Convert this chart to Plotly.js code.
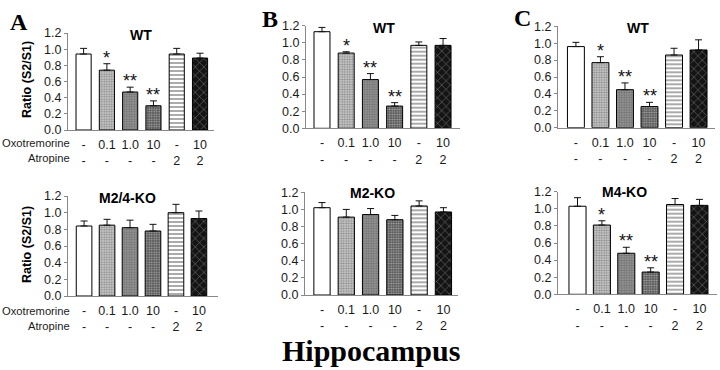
<!DOCTYPE html>
<html>
<head>
<meta charset="utf-8">
<script src="https://cdn.plot.ly/plotly-3.0.1.min.js"></script>
<style>html,body{margin:0;padding:0;background:#fff;}#chart{width:720px;height:370px;}</style>
</head>
<body>
<div id="chart"></div>
<script>
// ---- data ----
const positions = [0, 1, 2, 3, 4, 5];
const oxotremorine = ['-', '0.1', '1.0', '10', '-', '10'];
const atropine = ['-', '-', '-', '-', '2', '2'];

const wtA = [0.94, 0.74, 0.47, 0.30, 0.94, 0.89];
const errWtA = [0.07, 0.08, 0.06, 0.06, 0.07, 0.06];
const sigWtA = ['', '*', '**', '**', '', ''];

const koA = [0.84, 0.85, 0.82, 0.78, 1.00, 0.93];
const errKoA = [0.06, 0.07, 0.09, 0.08, 0.10, 0.09];
const sigKoA = ['', '', '', '', '', ''];

const wtB = [1.13, 0.88, 0.57, 0.26, 0.97, 0.97];
const errWtB = [0.05, 0.015, 0.07, 0.04, 0.04, 0.08];
const sigWtB = ['', '*', '**', '**', '', ''];

const koB = [1.02, 0.91, 0.94, 0.88, 1.04, 0.97];
const errKoB = [0.06, 0.09, 0.07, 0.05, 0.06, 0.05];
const sigKoB = ['', '', '', '', '', ''];

const wtC = [0.96, 0.77, 0.45, 0.25, 0.86, 0.92];
const errWtC = [0.05, 0.07, 0.08, 0.05, 0.08, 0.12];
const sigWtC = ['', '*', '**', '**', '', ''];

const koC = [1.03, 0.81, 0.48, 0.26, 1.05, 1.04];
const errKoC = [0.10, 0.05, 0.07, 0.05, 0.07, 0.07];
const sigKoC = ['', '*', '**', '**', '', ''];

const panelTitles = ['WT', 'M2/4-KO', 'WT', 'M2-KO', 'WT', 'M4-KO'];
const panelLetters = ['A', 'B', 'C'];

// ---- styling ----
const W = 720, H = 370;
const SANS = 'Arial, "Liberation Sans", sans-serif';
const SERIF = '"Times New Roman", "Liberation Serif", serif';
const barColors = ['#ffffff', '#c6c6c6', '#929292', '#555555', '#ffffff', '#141414'];
const patShapes = ['', '.', '.', '.', '-', 'x'];
const patFg = ['#000000', '#a8a8a8', '#7a7a7a', '#3c3c3c', '#6a6a6a', '#8a8a8a'];
const patSize = [4, 2.5, 2.5, 2.5, 4, 6];
const patSolidity = [0.3, 0.4, 0.4, 0.4, 0.45, 0.15];

// panel geometry in pixels: [x0, x1, yTop(1.2), yBottom(0)], x range, bar width
const panels = [
  {vals: wtA, err: errWtA, sig: sigWtA, px: [68, 214, 33, 130], xr: [-0.67, 5.6], bw: 0.65},
  {vals: koA, err: errKoA, sig: sigKoA, px: [68, 218, 196, 296], xr: [-0.7, 5.83], bw: 0.68},
  {vals: wtB, err: errWtB, sig: sigWtB, px: [306, 460, 25.7, 128.3], xr: [-0.66, 5.7], bw: 0.66},
  {vals: koB, err: errKoB, sig: sigKoB, px: [305, 458, 192.3, 295], xr: [-0.7, 5.6], bw: 0.67},
  {vals: wtC, err: errWtC, sig: sigWtC, px: [558, 715, 26.3, 127.7], xr: [-0.73, 5.67], bw: 0.69},
  {vals: koC, err: errKoC, sig: sigKoC, px: [558, 717, 191.7, 294.3], xr: [-0.8, 5.72], bw: 0.7}
];

const tickText = positions.map(i => oxotremorine[i] + '<br>' + atropine[i]);

const data = [];
const layout = {
  width: W, height: H,
  margin: {l: 0, r: 0, t: 0, b: 0},
  paper_bgcolor: '#fff', plot_bgcolor: '#fff',
  showlegend: false,
  font: {family: SANS, size: 12, color: '#222'},
  annotations: []
};

panels.forEach((p, k) => {
  const n = k === 0 ? '' : String(k + 1);
  const xa = 'x' + n, ya = 'y' + n;
  data.push({
    type: 'bar', x: positions, y: p.vals, width: p.bw,
    xaxis: xa, yaxis: ya,
    marker: {
      color: barColors,
      line: {color: '#000', width: 1},
      pattern: {shape: patShapes, fgcolor: patFg, size: patSize, solidity: patSolidity, fillmode: 'overlay'}
    },
    error_y: {type: 'data', symmetric: false, array: p.err, arrayminus: p.err.map(() => 0),
              color: '#111', thickness: 1, width: 3.5},
    hoverinfo: 'skip'
  });
  layout['xaxis' + n] = {
    domain: [p.px[0] / W, p.px[1] / W], anchor: ya, range: p.xr,
    tickmode: 'array', tickvals: positions, ticktext: tickText,
    ticks: '', showline: true, linecolor: '#888', linewidth: 1,
    showgrid: false, zeroline: false, fixedrange: true,
    tickfont: {family: SANS, size: 12.5, color: '#1a1a1a'}, ticklabelstandoff: 3
  };
  layout['yaxis' + n] = {
    domain: [1 - p.px[3] / H, 1 - p.px[2] / H], anchor: xa, range: [0, 1.2],
    tickmode: 'linear', tick0: 0, dtick: 0.2, tickformat: '.1f',
    ticks: 'outside', ticklen: 3, tickcolor: '#888', showline: true, linecolor: '#888', linewidth: 1,
    showgrid: false, zeroline: false, fixedrange: true,
    tickfont: {family: SANS, size: 12.5, color: '#1a1a1a'}
  };
  // significance stars
  positions.forEach(i => {
    if (p.sig[i]) {
      layout.annotations.push({
        xref: xa, yref: ya, x: i, y: p.vals[i] + p.err[i], yanchor: 'bottom', yshift: -6,
        text: p.sig[i], showarrow: false,
        font: {family: SANS, size: 18, color: '#111'}
      });
    }
  });
});

// panel titles
const titlePos = [[141, 35], [127, 198], [384, 28], [372, 193], [638, 28], [624, 192]];
panelTitles.forEach((t, k) => {
  layout.annotations.push({
    xref: 'paper', yref: 'paper', x: titlePos[k][0] / W, y: 1 - titlePos[k][1] / H,
    xanchor: 'center', yanchor: 'middle', text: '<b>' + t + '</b>', showarrow: false,
    font: {family: SANS, size: 14, color: '#000'}
  });
});

// panel letters
const letterPos = [[19, 22], [270, 19], [522, 18]];
panelLetters.forEach((t, k) => {
  layout.annotations.push({
    xref: 'paper', yref: 'paper', x: letterPos[k][0] / W, y: 1 - letterPos[k][1] / H,
    xanchor: 'center', yanchor: 'middle', text: '<b>' + t + '</b>', showarrow: false,
    font: {family: SERIF, size: 24, color: '#000'}
  });
});

// y axis titles (column A)
[[27, 80], [27, 245]].forEach(pos => {
  layout.annotations.push({
    xref: 'paper', yref: 'paper', x: pos[0] / W, y: 1 - pos[1] / H,
    xanchor: 'center', yanchor: 'middle', textangle: -90,
    text: '<b>Ratio (S2/S1)</b>', showarrow: false,
    font: {family: SANS, size: 12.5, color: '#000'}
  });
});

// row labels (column A)
[[143, 158], [311, 326]].forEach(rows => {
  layout.annotations.push({
    xref: 'paper', yref: 'paper', x: 71 / W, y: 1 - rows[0] / H,
    xanchor: 'right', yanchor: 'middle', text: 'Oxotremorine', showarrow: false,
    borderpad: 0, font: {family: SANS, size: 11.2, color: '#1a1a1a'}
  });
  layout.annotations.push({
    xref: 'paper', yref: 'paper', x: 71 / W, y: 1 - rows[1] / H,
    xanchor: 'right', yanchor: 'middle', text: 'Atropine', showarrow: false,
    borderpad: 0, font: {family: SANS, size: 11.2, color: '#1a1a1a'}
  });
});

// bottom caption
layout.annotations.push({
  xref: 'paper', yref: 'paper', x: 371 / W, y: 1 - 350 / H,
  xanchor: 'center', yanchor: 'middle', text: '<b>Hippocampus</b>', showarrow: false,
  font: {family: SERIF, size: 30, color: '#000'}
});

Plotly.newPlot('chart', data, layout, {staticPlot: true, displayModeBar: false});
</script>
</body>
</html>
